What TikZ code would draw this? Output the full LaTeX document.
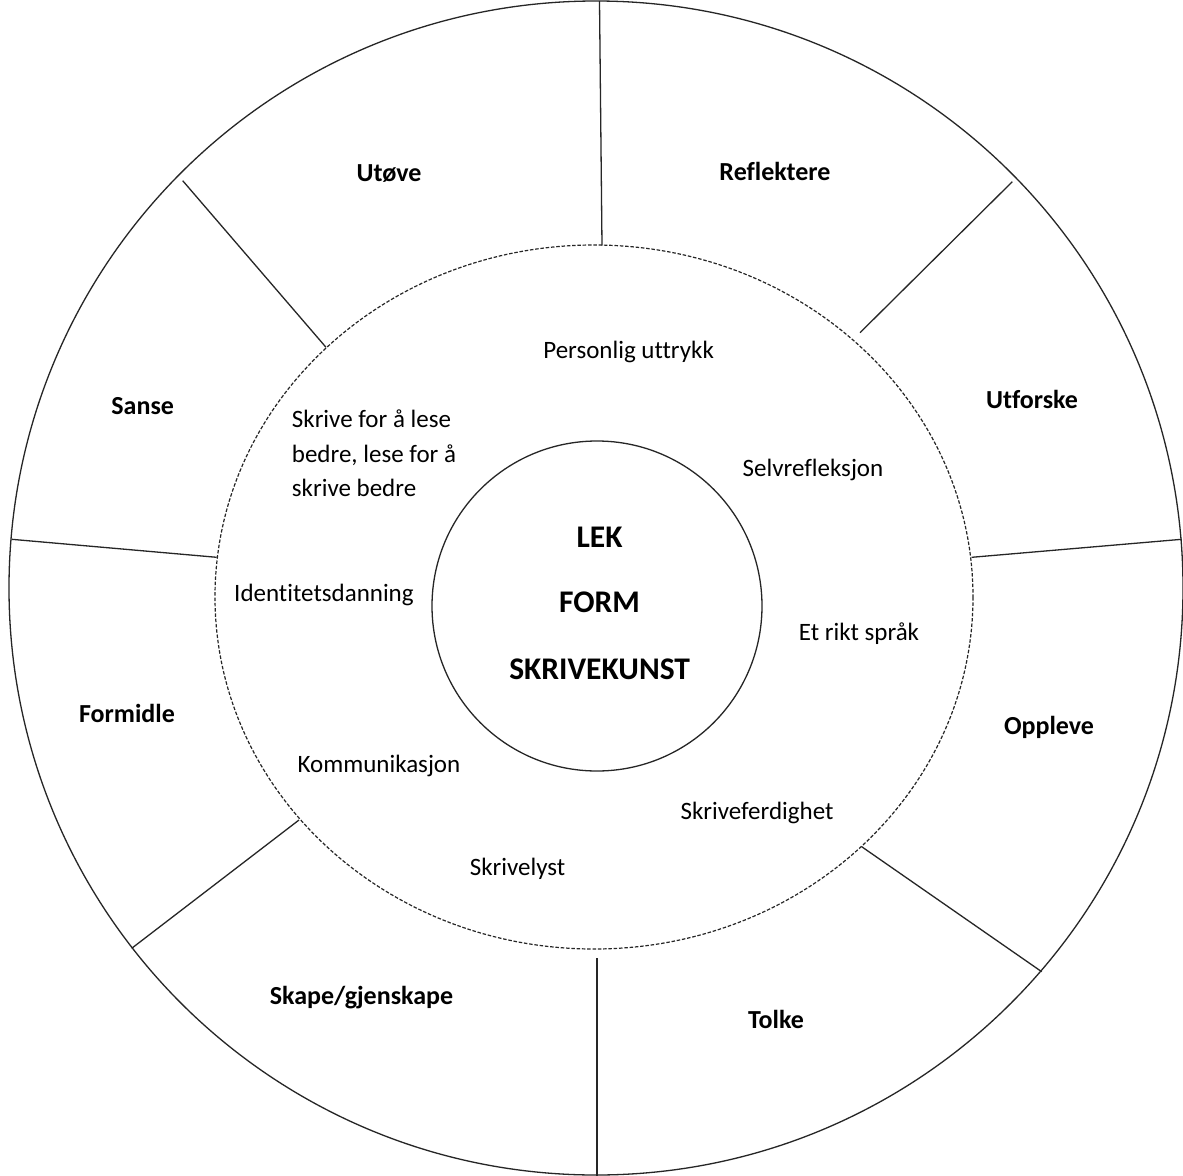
\documentclass[tikz,border=0pt]{standalone}
\usepackage{fontspec}
\setmainfont{Carlito}[Ligatures={NoCommon}]
\begin{document}
\begin{tikzpicture}[x=1pt,y=-1pt,
  ringline/.style={draw=black!85,line width=1.3pt},
  dashring/.style={draw=black!85,line width=1.2pt,dash pattern=on 3.5pt off 1.8pt},
  outerlabel/.style={anchor=base,inner sep=0pt,font=\fontsize{26}{30}\selectfont\bfseries},
  innerlabel/.style={anchor=base,inner sep=0pt,font=\fontsize{25}{34.7}\selectfont},
  corelabel/.style={anchor=base,inner sep=0pt,font=\fontsize{31.5}{36}\selectfont\bfseries}]
\useasboundingbox (0,0) rectangle (1183,1175);
\fill[white] (0,0) rectangle (1183,1175);
% outer circle
\draw[ringline] (596,588) circle [radius=587];
% dashed ring
\draw[dashring] (594,597) ellipse [x radius=379, y radius=352];
% core circle
\draw[ringline] (597,606) circle [radius=165];
% dividers
\coordinate (t1) at (599.5,1);     \coordinate (t2) at (602,245.5);
\coordinate (ul1) at (182.7,180.7); \coordinate (ul2) at (326,347.3);
\coordinate (ur1) at (1012.3,181.7);\coordinate (ur2) at (860,332.7);
\coordinate (ml1) at (11.7,539.3);  \coordinate (ml2) at (216.7,557.3);
\coordinate (mr1) at (1181.7,539.3);\coordinate (mr2) at (971.7,557.3);
\coordinate (ll1) at (131.7,948.3); \coordinate (ll2) at (299,820);
\coordinate (lr1) at (1041.7,971.7);\coordinate (lr2) at (861.7,846.7);
\coordinate (b1) at (597,958);      \coordinate (b2) at (597,1176);
\draw[ringline] (t1) -- (t2);
\draw[ringline] (ul1) -- (ul2);
\draw[ringline] (ur1) -- (ur2);
\draw[ringline] (ml1) -- (ml2);
\draw[ringline] (mr1) -- (mr2);
\draw[ringline] (ll1) -- (ll2);
\draw[ringline] (lr1) -- (lr2);
\draw[ringline] (b1) -- (b2);
% outer labels
\node[outerlabel] (utove) at (389,181.5) {Utøve};
\node[outerlabel] (refl) at (775,180) {Reflektere};
\node[outerlabel] (sanse) at (142.7,414.7) {Sanse};
\node[outerlabel] (utfo) at (1032,408.7) {Utforske};
\node[outerlabel] (formidle) at (127,722) {Formidle};
\node[outerlabel] (oppleve) at (1049,734) {Oppleve};
\node[outerlabel] (skape) at (361.5,1004.7) {Skape/gjenskape};
\node[outerlabel] (tolke) at (776,1028) {Tolke};
% inner ring labels
\node[innerlabel] (pers) at (628.6,358.2) {Personlig uttrykk};
\node[innerlabel,anchor=base west,align=left] (skrive) at (291.7,496.7) {Skrive for å lese\\bedre, lese for å\\skrive bedre};
\node[innerlabel] (selv) at (813,476) {Selvrefleksjon};
\node[innerlabel,anchor=base west] (ident) at (234,601.7) {Identitetsdanning};
\node[innerlabel] (rikt) at (859,640.6) {Et rikt språk};
\node[innerlabel] (komm) at (379,772) {Kommunikasjon};
\node[innerlabel] (ferd) at (757,819.4) {Skriveferdighet};
\node[innerlabel] (lyst) at (517.6,875.4) {Skrivelyst};
% core labels
\node[corelabel] (lek) at (599.6,547) {LEK};
\node[corelabel] (form) at (599.6,612.5) {FORM};
\node[corelabel] (kunst) at (599.6,679.3) {SKRIVEKUNST};
\end{tikzpicture}
\end{document}
